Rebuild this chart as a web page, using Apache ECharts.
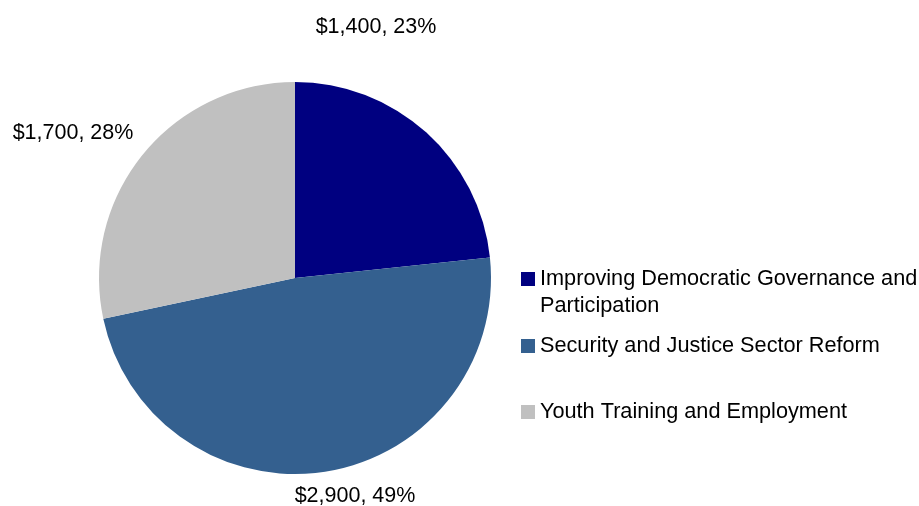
<!DOCTYPE html>
<html>
<head>
<meta charset="utf-8">
<script src="https://cdn.jsdelivr.net/npm/echarts@6/dist/echarts.min.js"></script>
<style>
  html, body { margin: 0; padding: 0; background: #ffffff; }
  #chart { width: 919px; height: 506px; }
</style>
</head>
<body>
<div id="chart"></div>
<script>
// Program funding by area (US$ thousands)
const categories = [
  'Improving Democratic Governance and Participation',
  'Security and Justice Sector Reform',
  'Youth Training and Employment'
];
const amounts = [1400, 2900, 1700];
const percentLabels = ['23%', '49%', '28%'];
const colors = ['#000080', '#34608f', '#c0c0c0'];

// Where each slice's label sits (centre point, px)
const labelSpots = [[376, 27], [355, 496], [73, 133]];

const fontFamily = 'Liberation Sans, Arial, sans-serif';
const legendLineHeight = 27;

const chart = echarts.init(document.getElementById('chart'), null, { renderer: 'canvas' });

// One legend block per category so each can sit at its own height.
// The two-line entry uses a tall icon box with the swatch drawn at its top,
// so the swatch lines up with the first line of text.
const legendTops = [265.5, 332.5, 398.5];
const legends = categories.map((name, i) => ({
  data: [name],
  orient: 'vertical',
  left: 521,
  top: legendTops[i],
  padding: 0,
  itemWidth: 14,
  itemHeight: i === 0 ? 14 + legendLineHeight : 14,
  itemGap: 0,
  icon: i === 0 ? 'path://M0 0H14V14H0Z M0 41H14' : 'rect',
  itemStyle: { borderWidth: 0 },
  selectedMode: false,
  textStyle: {
    fontFamily: fontFamily,
    fontSize: 21.7,
    color: '#000',
    lineHeight: legendLineHeight
  },
  formatter: n => n === categories[0] ? 'Improving Democratic Governance and\nParticipation' : n
}));

chart.setOption({
  animation: false,
  backgroundColor: '#ffffff',
  legend: legends,
  series: [{
    type: 'pie',
    center: [295, 278],
    radius: [0, 196],
    startAngle: 90,
    clockwise: true,
    avoidLabelOverlap: false,
    color: colors,
    data: categories.map((name, i) => ({ name: name, value: amounts[i] })),
    label: {
      show: true,
      position: 'outside',
      fontFamily: fontFamily,
      fontSize: 21.5,
      color: '#000',
      formatter: p => '$' + p.value.toLocaleString('en-US') + ', ' + percentLabels[p.dataIndex]
    },
    labelLine: { show: false },
    labelLayout: p => ({
      x: labelSpots[p.dataIndex][0],
      y: labelSpots[p.dataIndex][1],
      align: 'center',
      verticalAlign: 'middle'
    }),
    emphasis: { disabled: true },
    itemStyle: { borderWidth: 0 }
  }]
});
</script>
</body>
</html>
